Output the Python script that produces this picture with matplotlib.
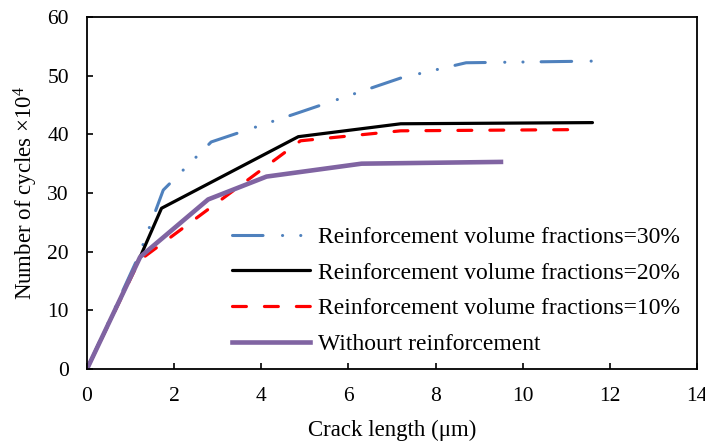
import matplotlib.pyplot as plt
import matplotlib as mpl

mpl.rcParams.update({
    "font.family": ["Liberation Serif", "DejaVu Serif"],
    "font.size": 16,
    "mathtext.fontset": "custom",
    "mathtext.rm": "Liberation Serif",
    "mathtext.it": "Liberation Serif:italic",
    "lines.scale_dashes": False,
})

# crack length (um) vs number of cycles (x10^4)
x_30 = [0, 1.2, 1.75, 2.85, 4.9, 7.2, 8.7, 11.8]
y_30 = [0, 19.5, 30.5, 38.7, 43.8, 49.6, 52.2, 52.5]

x_20 = [0, 1.22, 1.71, 4.85, 7.2, 11.6]
y_20 = [0, 19.1, 27.4, 39.6, 41.8, 42.0]

x_10 = [0, 1.2, 4.9, 7.2, 11.1]
y_10 = [0, 18.5, 38.9, 40.6, 40.8]

x_0 = [0, 1.22, 2.78, 4.12, 6.3, 9.5]
y_0 = [0, 19.1, 28.9, 32.8, 35.0, 35.3]

labels = [
    "Reinforcement volume fractions=30%",
    "Reinforcement volume fractions=20%",
    "Reinforcement volume fractions=10%",
    "Withourt reinforcement",
]

fig = plt.figure(figsize=(7.05, 4.46), dpi=100)
ax = fig.add_axes([0.1234, 0.1726, 0.8653, 0.7893])

ax.plot(x_30, y_30, color="#4F81BD", lw=2.2, solid_capstyle="round",
        dash_capstyle="round",
        linestyle=(0, (22, 14, 0.1, 13, 0.1, 13)), label=labels[0])
ax.plot(x_20, y_20, color="black", lw=2.3, solid_capstyle="round",
        label=labels[1])
ax.plot(x_10, y_10, color="#FF0000", lw=2.3, dash_capstyle="round",
        linestyle=(0, (10, 13)), label=labels[2])
ax.plot(x_0, y_0, color="#8064A2", lw=3.3, label=labels[3])

ax.set_xlim(0, 14)
ax.set_ylim(0, 60)
ax.set_xticks(range(0, 15, 2))
ax.set_yticks(range(0, 61, 10))
ax.tick_params(direction="in", length=4, width=1.2, pad=13, labelsize=15.5)
for s in ax.spines.values():
    s.set_linewidth(1.3)

ax.set_xlabel("Crack length (μm)", fontsize=16.5, labelpad=10)
ax.set_ylabel(r"Number of cycles $\times$10$^4$", fontsize=16.5, labelpad=5)

ax.legend(loc="lower left", bbox_to_anchor=(0.238, 0.04), frameon=False,
          handlelength=3.3, handletextpad=0.34, labelspacing=0.6,
          borderpad=0, borderaxespad=0, fontsize=17)

fig.savefig("out.png", dpi=100)
